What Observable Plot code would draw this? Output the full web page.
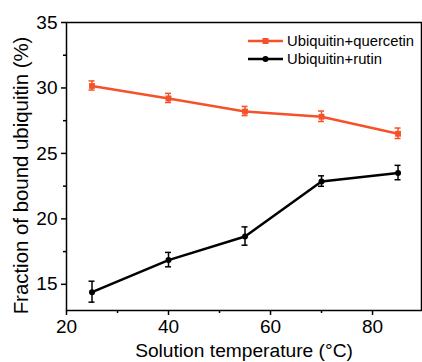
<!DOCTYPE html>
<html><head><meta charset="utf-8">
<script src="https://cdn.jsdelivr.net/npm/d3@7"></script>
<script src="https://cdn.jsdelivr.net/npm/@observablehq/plot@0.6"></script>
<style>
html,body{margin:0;padding:0;background:#fff;}
svg{font-family:"Liberation Sans",Arial,sans-serif;}
</style></head>
<body><div id="chart"></div>
<script>
const temperatures = [25, 40, 55, 70, 85];
const quercetin = [30.15, 29.2, 28.2, 27.8, 26.5];
const quercetinErr = [0.35, 0.35, 0.35, 0.4, 0.4];
const rutin = [14.4, 16.85, 18.65, 22.85, 23.5];
const rutinErr = [0.8, 0.55, 0.7, 0.4, 0.55];
const seriesNames = ["Ubiquitin+quercetin", "Ubiquitin+rutin"];
const colors = ["#f5522b", "#000000"];
const xTicks = [20, 40, 60, 80];
const xMinor = [30, 50, 70];
const yTicks = [15, 20, 25, 30, 35];
const yMinor = [17.5, 22.5, 27.5, 32.5];
const xTitle = "Solution temperature (°C)";
const yTitle = "Fraction of bound ubiquitin (%)";

const rows = [];
temperatures.forEach((t, i) => {
  rows.push({t, v: quercetin[i], e: quercetinErr[i], s: seriesNames[0]});
});
temperatures.forEach((t, i) => {
  rows.push({t, v: rutin[i], e: rutinErr[i], s: seriesNames[1]});
});
const q = rows.filter(d => d.s === seriesNames[0]);
const r = rows.filter(d => d.s === seriesNames[1]);

const chart = Plot.plot({
  width: 422, height: 362,
  marginLeft: 66, marginRight: 1, marginTop: 22, marginBottom: 52,
  style: {fontFamily: '"Liberation Sans", Arial, sans-serif', fontSize: "19px", color: "#000", background: "#fff"},
  x: {type: "linear", domain: [20, 89.6]},
  y: {type: "linear", domain: [13, 35]},
  marks: [
    Plot.axisX({ticks: xTicks, tickSize: 5, tickPadding: 4, fontSize: 19, label: null, strokeWidth: 1.5}),
    Plot.axisX({ticks: [], tickSize: 0, fontSize: 19.2, label: xTitle, labelAnchor: "center", labelArrow: "none", labelOffset: 46}),
    Plot.axisX({ticks: xMinor, tickSize: 3, text: null, label: null, strokeWidth: 1.5}),
    Plot.axisY({ticks: yTicks, tickSize: 5, tickPadding: 4, fontSize: 19, label: null, strokeWidth: 1.5}),
    Plot.axisY({ticks: [], tickSize: 0, fontSize: 20.4, label: yTitle, labelAnchor: "center", labelArrow: "none", labelOffset: 53}),
    Plot.axisY({ticks: yMinor, tickSize: 3, text: null, label: null, strokeWidth: 1.5}),
    Plot.frame({stroke: "#000", strokeWidth: 1.5}),
    Plot.line(q, {x: "t", y: "v", stroke: colors[0], strokeWidth: 2.5}),
    Plot.line(r, {x: "t", y: "v", stroke: colors[1], strokeWidth: 2.5}),
    Plot.ruleX(q, {x: "t", y1: d => d.v - d.e, y2: d => d.v + d.e, stroke: colors[0], strokeWidth: 1.5}),
    Plot.ruleX(r, {x: "t", y1: d => d.v - d.e, y2: d => d.v + d.e, stroke: colors[1], strokeWidth: 1.5}),
    Plot.dot(q, {x: "t", y: "v", symbol: "square", r: 3.3, fill: colors[0], stroke: "none"}),
    Plot.dot(r, {x: "t", y: "v", symbol: "circle", r: 3, fill: colors[1], stroke: "none"})
  ]
});

const svg = d3.select(chart);
// shift the y title slightly down, as in the reference
svg.selectAll("text").filter(function() { return this.textContent === yTitle; })
  .each(function() {
    const t = this.getAttribute("transform") || "";
    this.setAttribute("transform", "translate(0,9) " + t);
  });

// error-bar caps positioned with the chart's own scales
const xs = chart.scale("x"), ys = chart.scale("y");
const caps = svg.append("g");
[[q, colors[0]], [r, colors[1]]].forEach(([data, c]) => {
  data.forEach(d => {
    const x = xs.apply(d.t);
    [d.v - d.e, d.v + d.e].forEach(v => {
      const y = ys.apply(v);
      caps.append("line").attr("x1", x - 3).attr("x2", x + 3).attr("y1", y).attr("y2", y)
        .attr("stroke", c).attr("stroke-width", 1.5);
    });
  });
});

// legend inside plot
const leg = svg.append("g").attr("font-size", 14.8).attr("text-anchor", "start");
seriesNames.forEach((name, i) => {
  const y = 41 + i * 18;
  leg.append("line").attr("x1", 248).attr("x2", 283).attr("y1", y).attr("y2", y)
    .attr("stroke", colors[i]).attr("stroke-width", 2.5);
  if (i === 0) leg.append("rect").attr("x", 262.5).attr("y", y - 3).attr("width", 6).attr("height", 6).attr("fill", colors[i]);
  else leg.append("circle").attr("cx", 265.5).attr("cy", y).attr("r", 3).attr("fill", colors[i]);
  leg.append("text").attr("x", 287).attr("y", y).attr("dy", "0.36em").attr("fill", "#000").text(name);
});

document.getElementById("chart").appendChild(chart);
</script></body></html>
